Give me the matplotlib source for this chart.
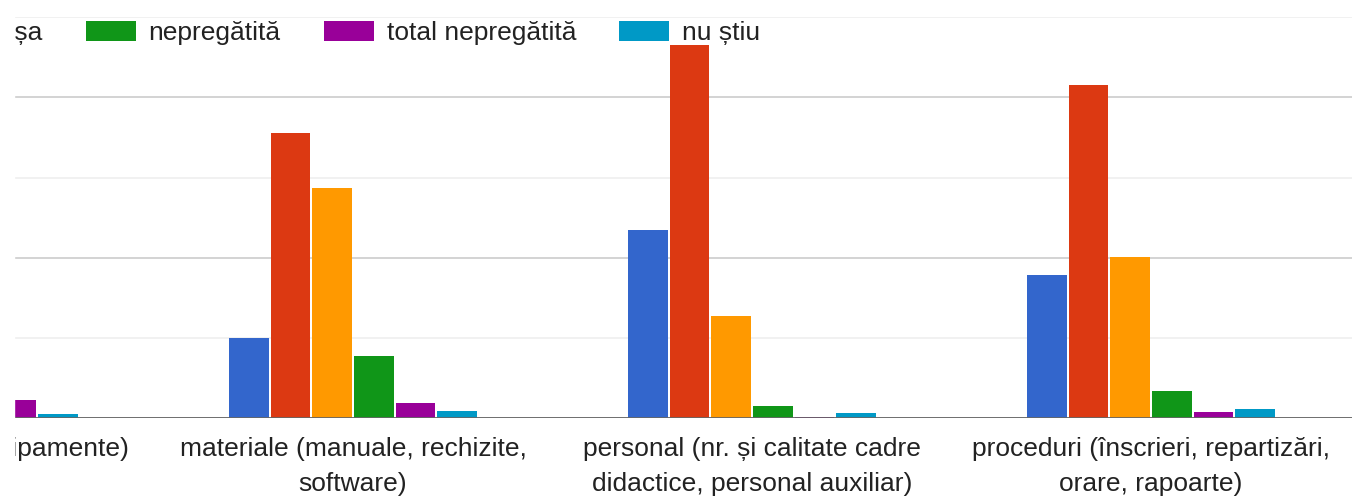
import matplotlib
matplotlib.use("Agg")
import matplotlib.pyplot as plt
import numpy as np
from matplotlib.patches import Rectangle

plt.rcParams['font.family'] = ['Liberation Sans', 'DejaVu Sans']

categories = [
    "baza materială (echipamente)",
    "materiale (manuale, rechizite,\nsoftware)",
    "personal (nr. și calitate cadre\ndidactice, personal auxiliar)",
    "proceduri (înscrieri, repartizări,\norare, rapoarte)",
]
series = ["foarte bine pregătită", "bine pregătită", "așa și așa",
          "nepregătită", "total nepregătită", "nu știu"]
colors = ["#3366cc", "#dc3912", "#ff9900", "#109618", "#990099", "#0099c6"]

# counts per category, one list per series
foarte_bine = [250, 100, 235, 179]
bine = [400, 356, 465, 415]
asa_si_asa = [150, 287, 127, 201]
nepregatita = [21, 78, 15, 34]
total_nepregatita = [23, 19, 1, 8]
nu_stiu = [5, 9, 6, 12]
values = [foarte_bine, bine, asa_si_asa, nepregatita, total_nepregatita, nu_stiu]

W, H = 1352, 499
fig = plt.figure(figsize=(W / 100, H / 100), dpi=100)
ax = fig.add_axes([14 / W, (H - 418.3) / H, 1 - 14 / W, (418.3 - 17.3) / H])

x = np.arange(len(categories))
step = 0.1043
width = 0.099
for k, (name, vals, c) in enumerate(zip(series, values, colors)):
    ax.bar(x + (k - 2.5) * step, vals, width, color=c, label=name, zorder=3)

ax.set_xticks([])
ax.set_xlim(0.1504, 3.5038)
ax.set_ylim(0, 500)

ax.set_yticks([0, 200, 400])
ax.set_yticks([100, 300, 500], minor=True)
ax.grid(axis='y', which='major', color='#cccccc', lw=1.2, zorder=0)
ax.grid(axis='y', which='minor', color='#efefef', lw=1.2, zorder=0)
ax.axhline(0, color='#666666', lw=2, zorder=4)
ax.tick_params(axis='y', which='both', left=False, labelleft=False)

# category labels (first one sits partly outside the view)
for xi, lab in zip(x, categories):
    ax.annotate(lab, xy=(xi, 0), xycoords=('data', 'axes fraction'),
                xytext=(0, -13.5), textcoords='offset points',
                ha='center', va='top', fontsize=19, color='#222222',
                linespacing=1.6, annotation_clip=False)

for s in ax.spines.values():
    s.set_visible(False)

ax.legend(loc='center right', bbox_to_anchor=(760 / W, 1 - 33 / H),
          bbox_transform=fig.transFigure, ncol=6, frameon=False,
          fontsize=19, labelcolor='#222222', borderpad=0, borderaxespad=0,
          handlelength=1.89, handleheight=0.8, handletextpad=0.49,
          columnspacing=1.63)

# the picture is cut off on the left
fig.add_artist(Rectangle((0, 0), 14 / W, 1, transform=fig.transFigure,
                         color='white', zorder=100))

fig.savefig("out.png", dpi=100)
